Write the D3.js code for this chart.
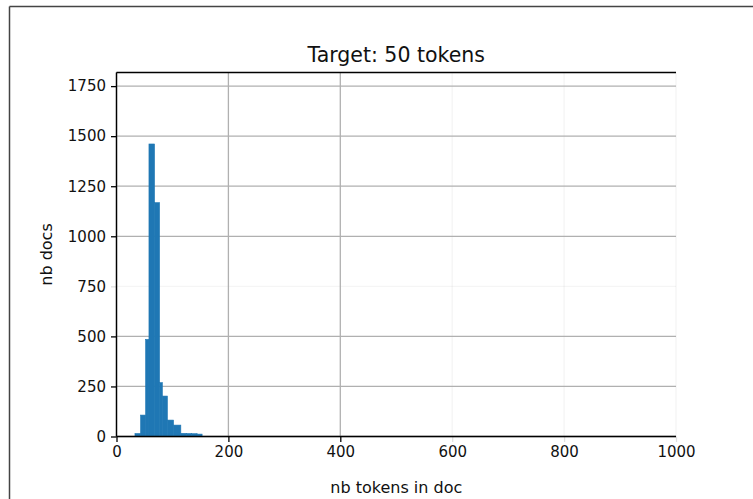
<!DOCTYPE html>
<html>
<head>
<meta charset="utf-8">
<script src="https://cdn.jsdelivr.net/npm/d3@7"></script>
<style>
  html, body { margin: 0; padding: 0; background: #fff; }
  svg { display: block; }
  text { font-family: "DejaVu Sans", sans-serif; fill: #111; }
</style>
</head>
<body>
<svg id="chart" width="753" height="499"></svg>
<script>
// Histogram of document lengths (tokens per doc)
const binStarts = [33, 43, 52, 58, 68, 77, 82, 91, 102, 115, 125, 134, 144];
const binEnds   = [43, 52, 58, 68, 77, 82, 91, 102, 115, 125, 134, 144, 153];
const counts    = [15, 107, 485, 1461, 1168, 269, 202, 82, 57, 16, 15, 14, 12];

const xTicks = [0, 200, 400, 600, 800, 1000];
const yTicks = [0, 250, 500, 750, 1000, 1250, 1500, 1750];
// grid/tick lines rendered very lightly
const faintX = [600, 800, 1000];
const faintY = [750];

const titleText = "Target: 50 tokens";
const xLabel = "nb tokens in doc";
const yLabel = "nb docs";

const W = 753, H = 499;
const plot = { left: 116.5, right: 676, top: 72.5, bottom: 436.5 };

const svg = d3.select("#chart");

// figure frame (top and left edges)
svg.append("line").attr("x1", 9.5).attr("x2", W).attr("y1", 6.5).attr("y2", 6.5)
  .attr("stroke", "#444").attr("stroke-width", 1.5);
svg.append("line").attr("x1", 9.5).attr("x2", 9.5).attr("y1", 6.5).attr("y2", H)
  .attr("stroke", "#444").attr("stroke-width", 1.5);

const x = d3.scaleLinear().domain([0, 1000]).range([plot.left, plot.right]);
const y = d3.scaleLinear().domain([0, 1818]).range([plot.bottom, plot.top]);

const bins = counts.map((c, i) => ({ x0: binStarts[i], x1: binEnds[i], n: c }));

// grid
const grid = svg.append("g");
grid.selectAll(".gx").data(xTicks).join("line")
  .attr("x1", d => x(d)).attr("x2", d => x(d))
  .attr("y1", plot.top).attr("y2", plot.bottom)
  .attr("stroke", "#b0b0b0").attr("stroke-width", 1.3)
  .attr("stroke-opacity", d => faintX.includes(d) ? 0.12 : 1);
grid.selectAll(".gy").data(yTicks).join("line")
  .attr("x1", plot.left).attr("x2", plot.right)
  .attr("y1", d => y(d)).attr("y2", d => y(d))
  .attr("stroke", "#b0b0b0").attr("stroke-width", 1.3)
  .attr("stroke-opacity", d => faintY.includes(d) ? 0.12 : 1);

// bars (thin same-colour outline closes anti-aliasing seams)
svg.append("g").selectAll("rect").data(bins).join("rect")
  .attr("x", d => x(d.x0))
  .attr("width", d => x(d.x1) - x(d.x0))
  .attr("y", d => y(d.n))
  .attr("height", d => y(0) - y(d.n))
  .attr("fill", "#1f77b4")
  .attr("stroke", "#1f77b4").attr("stroke-width", 0.6);

// axes
const xAxis = svg.append("g").attr("transform", `translate(0,${plot.bottom})`)
  .call(d3.axisBottom(x).tickValues(xTicks).tickSize(5.5).tickPadding(4).tickFormat(d3.format("d")));
const yAxis = svg.append("g").attr("transform", `translate(${plot.left},0)`)
  .call(d3.axisLeft(y).tickValues(yTicks).tickSize(5.5).tickPadding(5).tickFormat(d3.format("d")));

[xAxis, yAxis].forEach(g => {
  g.select(".domain").remove();
  g.selectAll("line").attr("stroke", "#000").attr("stroke-width", 1.3);
  g.selectAll("text").attr("font-size", 15).attr("font-family", "DejaVu Sans, sans-serif").attr("fill", "#111");
});
xAxis.selectAll(".tick").filter(d => faintX.includes(d)).select("line").attr("stroke-opacity", 0.12);
yAxis.selectAll(".tick").filter(d => faintY.includes(d)).select("line").attr("stroke-opacity", 0.12);

// spines: left, bottom, top
const spine = svg.append("g").attr("stroke", "#000").attr("stroke-width", 1.4);
spine.append("line").attr("x1", plot.left).attr("x2", plot.left).attr("y1", plot.top).attr("y2", plot.bottom);
spine.append("line").attr("x1", plot.left).attr("x2", plot.right).attr("y1", plot.bottom).attr("y2", plot.bottom);
spine.append("line").attr("x1", plot.left).attr("x2", plot.right).attr("y1", plot.top).attr("y2", plot.top);

// title and axis labels
svg.append("text").attr("x", (plot.left + plot.right) / 2).attr("y", 62)
  .attr("text-anchor", "middle").attr("font-size", 20.5).text(titleText);
svg.append("text").attr("x", (plot.left + plot.right) / 2).attr("y", 493)
  .attr("text-anchor", "middle").attr("font-size", 16).text(xLabel);
svg.append("text")
  .attr("transform", `translate(52,${(plot.top + plot.bottom) / 2}) rotate(-90)`)
  .attr("text-anchor", "middle").attr("font-size", 16).text(yLabel);
</script>
</body>
</html>
